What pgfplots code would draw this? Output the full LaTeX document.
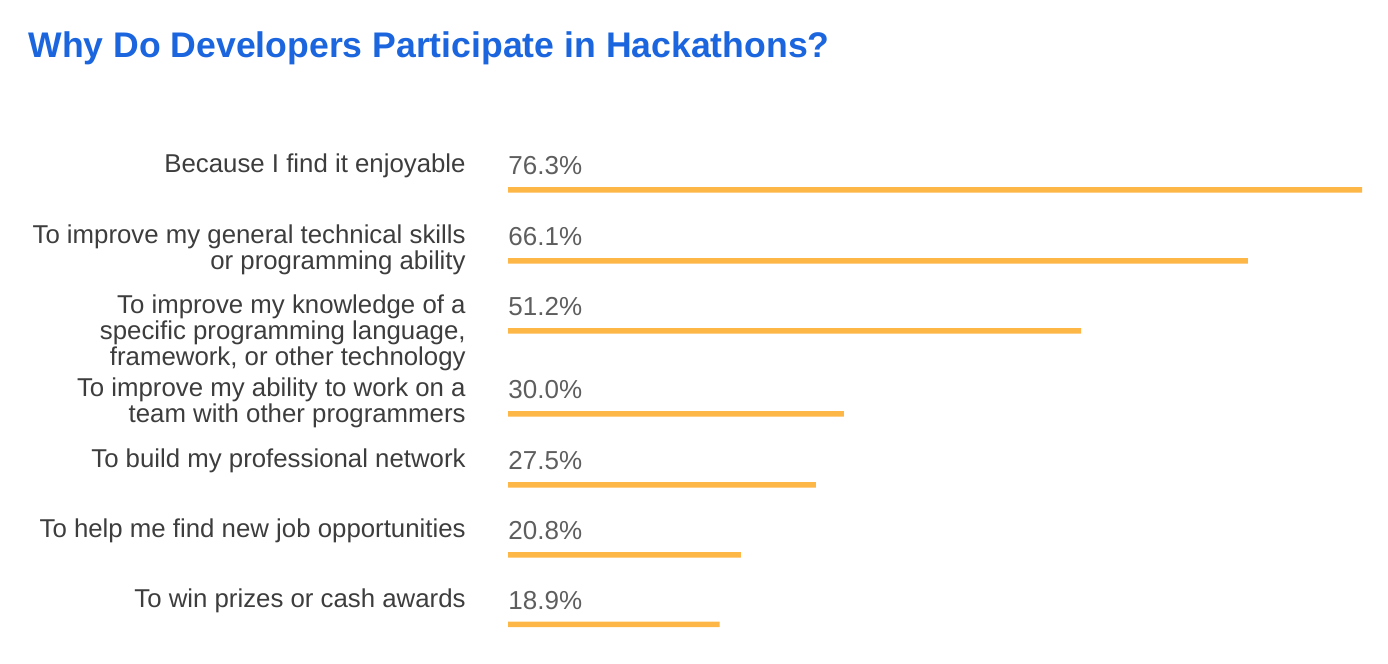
\documentclass[border=0pt]{standalone}
\usepackage{fontspec}
\setmainfont{Liberation Sans}
\usepackage{pgfplots}
\pgfplotsset{compat=1.18}
\usepackage{pgfplotstable}
\definecolor{titleblue}{HTML}{1B66DE}
\definecolor{labelgray}{HTML}{3D3D3D}
\definecolor{valuegray}{HTML}{5E5E5E}
\definecolor{barorange}{HTML}{FDB747}

% y = bar position (pixels from the top, negated), v = share in percent,
% nl = lines in the label
\pgfplotstableread[col sep=semicolon]{
y;v;nl;label
-190;76.3;1;{Because I find it enjoyable}
-261;66.1;2;{To improve my general technical skills\\or programming ability}
-331;51.2;3;{To improve my knowledge of a\\specific programming language,\\framework, or other technology}
-414;30.0;2;{To improve my ability to work on a\\team with other programmers}
-485;27.5;1;{To build my professional network}
-555;20.8;1;{To help me find new job opportunities}
-624.5;18.9;1;{To win prizes or cash awards}
}\hackdata

\begin{document}
\begin{tikzpicture}
\useasboundingbox (0,0) rectangle (694bp,332bp);
\begin{axis}[
    at={(0,0)}, anchor=south west,
    scale only axis, width=694bp, height=332bp,
    xmin=-45.387, xmax=78.623, ymin=-664, ymax=0,
    hide axis, clip=false,
    title={Why Do Developers Participate in Hackathons?},
    title style={at={(0,1)}, anchor=base west, xshift=14bp, yshift=-34.5bp,
        inner sep=0pt, text=titleblue,
        font=\fontsize{17.8bp}{20bp}\selectfont\bfseries},
]
\addplot[xbar, bar width=2.75bp, bar shift=0pt, draw=none, fill=barorange]
    table[x=v, y=y] {\hackdata};
% percentage above each bar
\addplot[draw=none, mark=none, point meta=explicit symbolic,
    nodes near coords={\pgfplotspointmeta\%},
    nodes near coords style={anchor=base west, inner sep=0pt, text=valuegray,
        font=\fontsize{13bp}{12.75bp}\selectfont}]
    table[x expr=0, y expr=\thisrow{y}+15, meta=v] {\hackdata};
% category names (base anchor sits on the last line)
\addplot[draw=none, mark=none, point meta=explicit symbolic,
    nodes near coords={\pgfplotspointmeta},
    nodes near coords style={anchor=base east, inner sep=0pt, xshift=-21bp,
        align=right, text=labelgray,
        font=\fontsize{12.9bp}{12.85bp}\selectfont}]
    table[x expr=0, y expr=\thisrow{y}+17-25.7*(\thisrow{nl}-1), meta=label] {\hackdata};
\end{axis}
\end{tikzpicture}
\end{document}
